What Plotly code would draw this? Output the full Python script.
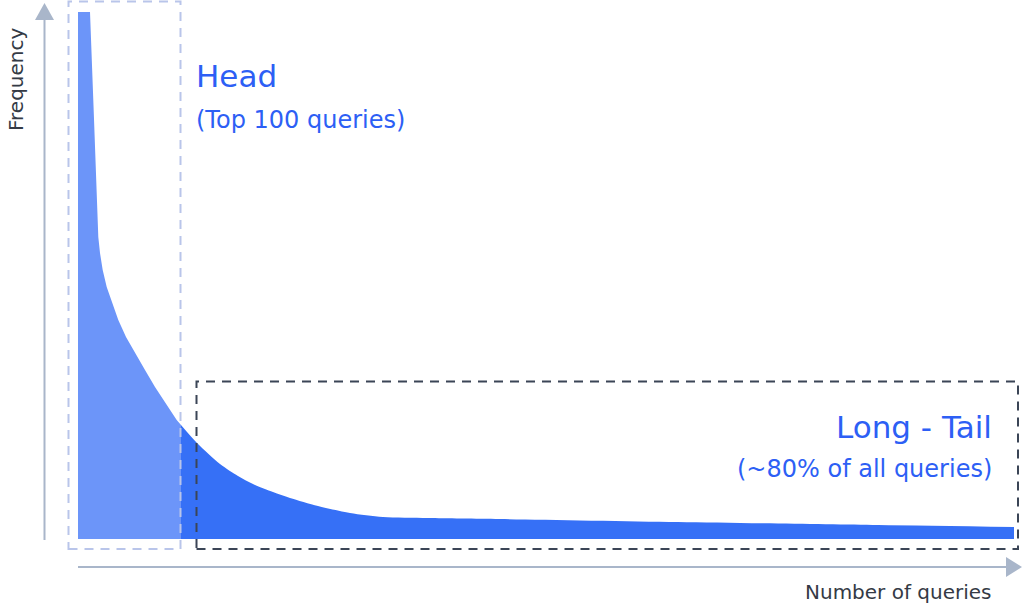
import plotly.graph_objects as go

# ---- data (query rank vs. frequency, arbitrary units) ----
rank = [0, 12, 16, 19.7, 20.3, 22, 24.7, 28.7, 34, 40.3, 48, 57, 67, 77, 87.5, 98.7, 103,
        119, 142, 160, 175, 195, 212, 240, 272, 305, 350, 422, 600, 800, 936]
freq = [527, 527, 420, 319, 302, 286, 269, 252, 236, 219, 202, 186, 169, 152, 136, 119, 114,
        96, 75, 63, 55, 47, 41, 33, 26, 22, 21, 20, 17, 14, 12]
HEAD_LIMIT = 103  # top-100 queries boundary

head_x = [r for r in rank if r <= HEAD_LIMIT]
head_y = [f for r, f in zip(rank, freq) if r <= HEAD_LIMIT]
tail_x = [r for r in rank if r >= HEAD_LIMIT]
tail_y = [f for r, f in zip(rank, freq) if r >= HEAD_LIMIT]

W, H = 1024, 608
LIGHT = "#6c95f9"
DARK = "#3670f6"
TEXT_BLUE = "#2d5ff5"
AXIS = "#a9b6ca"
BOX_LIGHT = "#b9c5ea"
BOX_DARK = "#3b4556"
LABEL = "#343a45"


def px(x):
    return x / W


def py(y):
    return 1 - y / H


fig = go.Figure()
fig.add_trace(go.Scatter(x=head_x, y=head_y, mode="lines", fill="tozeroy",
                         fillcolor=LIGHT, line=dict(width=0, color=LIGHT),
                         hoverinfo="skip", showlegend=False))
fig.add_trace(go.Scatter(x=tail_x, y=tail_y, mode="lines", fill="tozeroy",
                         fillcolor=DARK, line=dict(width=0, color=DARK, shape="spline", smoothing=0.8),
                         hoverinfo="skip", showlegend=False))

shapes = []
# dashed boxes
shapes.append(dict(type="rect", xref="paper", yref="paper",
                   x0=px(68.5), x1=px(180.5), y0=py(549), y1=py(1.5),
                   line=dict(color=BOX_LIGHT, width=2, dash="9px,7px"), layer="above"))
shapes.append(dict(type="rect", xref="paper", yref="paper",
                   x0=px(196.5), x1=px(1018), y0=py(549), y1=py(381.5),
                   line=dict(color=BOX_DARK, width=2, dash="9px,7px"), layer="above"))
# y axis arrow
shapes.append(dict(type="line", xref="paper", yref="paper",
                   x0=px(44.5), x1=px(44.5), y0=py(540), y1=py(18),
                   line=dict(color=AXIS, width=2)))
shapes.append(dict(type="path", xref="paper", yref="paper",
                   path=f"M {px(35)} {py(20)} L {px(54)} {py(20)} L {px(44.5)} {py(3)} Z",
                   fillcolor=AXIS, line=dict(width=0)))
# x axis arrow
shapes.append(dict(type="line", xref="paper", yref="paper",
                   x0=px(78), x1=px(1008), y0=py(567), y1=py(567),
                   line=dict(color=AXIS, width=2)))
shapes.append(dict(type="path", xref="paper", yref="paper",
                   path=f"M {px(1006)} {py(557)} L {px(1006)} {py(577)} L {px(1022)} {py(567)} Z",
                   fillcolor=AXIS, line=dict(width=0)))

FONT = "DejaVu Sans"
annotations = [
    dict(text="Head", x=px(194), y=py(76), xanchor="left", yanchor="middle",
         font=dict(family=FONT, size=31, color=TEXT_BLUE)),
    dict(text="(Top 100 queries)", x=px(194), y=py(120), xanchor="left", yanchor="middle",
         font=dict(family=FONT, size=24, color=TEXT_BLUE)),
    dict(text="Long - Tail", x=px(994), y=py(427), xanchor="right", yanchor="middle",
         font=dict(family=FONT, size=31, color=TEXT_BLUE)),
    dict(text="(~80% of all queries)", x=px(994), y=py(469), xanchor="right", yanchor="middle",
         font=dict(family=FONT, size=24, color=TEXT_BLUE)),
    dict(text="Number of queries", x=px(994), y=py(592), xanchor="right", yanchor="middle",
         font=dict(family=FONT, size=20, color=LABEL)),
    dict(text="Frequency", x=px(16), y=py(80), xanchor="center", yanchor="middle", textangle=-90,
         font=dict(family=FONT, size=20, color=LABEL)),
]
for a in annotations:
    a.update(xref="paper", yref="paper", showarrow=False)

fig.update_layout(
    width=W, height=H, autosize=False,
    margin=dict(l=0, r=0, t=0, b=0),
    paper_bgcolor="white", plot_bgcolor="white",
    xaxis=dict(range=[-78, W - 78], visible=False, fixedrange=True),
    yaxis=dict(range=[-(H - 539), 539], visible=False, fixedrange=True),
    shapes=shapes, annotations=annotations,
)

fig.write_html("out.html", config={"displayModeBar": False},
               post_script="document.body.style.margin='0';document.body.style.overflow='hidden';")
